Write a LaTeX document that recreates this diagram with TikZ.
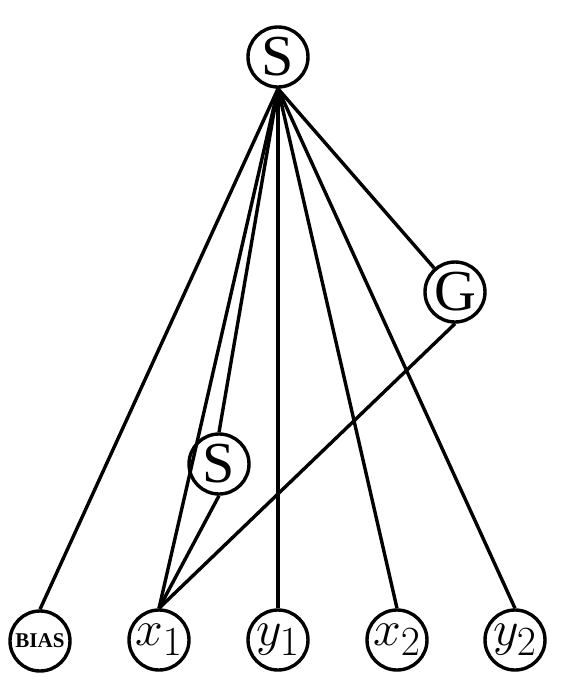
\documentclass[tikz,border=0pt]{standalone}
\usepackage{fontspec}
\setmainfont{Liberation Serif}
\usepackage{tikz}

\begin{document}
\begin{tikzpicture}[x=0.5pt, y=-0.5pt, line width=1.7pt,
    nodo/.style={circle, draw, fill=white, inner sep=0pt, minimum size=30pt,
        font=\fontsize{29}{29}\selectfont},
    sesgo/.style={nodo, font=\fontsize{10.5}{10.5}\selectfont\bfseries}]

    \useasboundingbox (0,0) rectangle (566,682);

    % nodos
    \node[nodo] (s) at (278,57) {S};
    \node[nodo] (g) at (455,292) {G};
    \node[nodo] (sm) at (219,464) {S};
    \node[sesgo] (bias) at (40,641) {BIAS};
    \node[nodo] (x1) at (159,640) {$x_1$};
    \node[nodo] (y1) at (278,640) {$y_1$};
    \node[nodo] (x2) at (397,640) {$x_2$};
    \node[nodo] (y2) at (515,640) {$y_2$};

    % aristas desde la raiz
    \foreach \n in {bias, x1, sm, y1, x2, y2}
        \draw (s.south) -- (\n.north);
    \draw (s.south) -- (g);

    % aristas hacia x1
    \draw (sm.south) -- (x1.north);
    \draw (g.south) -- (x1.north);

\end{tikzpicture}
\end{document}
